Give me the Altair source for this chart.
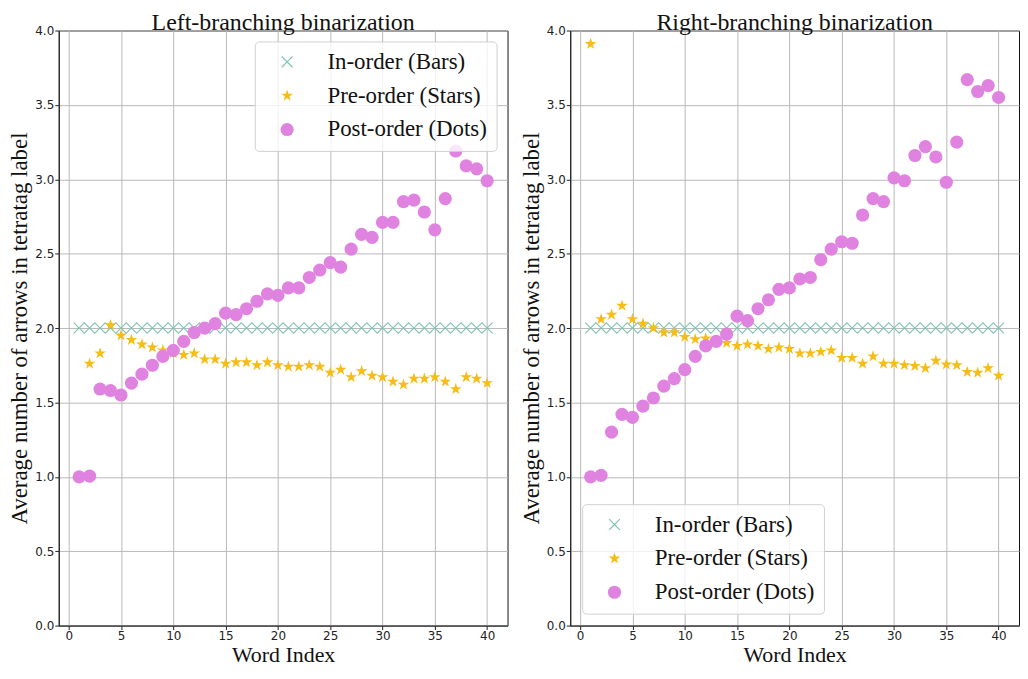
import math
import altair as alt
import pandas as pd

idx = list(range(1, 41))
series_names = ["In-order (Bars)", "Pre-order (Stars)", "Post-order (Dots)"]

left_in = [2.0] * 40
left_pre = [None, 1.76, 1.83, 2.02, 1.95, 1.92, 1.89, 1.87, 1.85, 1.83,
            1.82, 1.83, 1.79, 1.79, 1.76, 1.77, 1.77, 1.75, 1.77, 1.75,
            1.74, 1.74, 1.75, 1.74, 1.70, 1.72, 1.67, 1.71, 1.68, 1.67,
            1.64, 1.62, 1.66, 1.66, 1.67, 1.64, 1.59, 1.67, 1.66, 1.63]
left_post = [1.00, 1.005, 1.59, 1.58, 1.55, 1.63, 1.69, 1.75, 1.81, 1.85,
             1.91, 1.97, 2.00, 2.03, 2.10, 2.09, 2.13, 2.18, 2.23, 2.22,
             2.27, 2.27, 2.34, 2.39, 2.44, 2.41, 2.53, 2.63, 2.61, 2.71,
             2.71, 2.85, 2.86, 2.78, 2.66, 2.87, 3.19, 3.09, 3.07, 2.99]

right_in = [2.0] * 40
right_pre = [3.91, 2.06, 2.09, 2.15, 2.06, 2.03, 2.00, 1.97, 1.97, 1.94,
             1.925, 1.93, 1.91, 1.90, 1.88, 1.89, 1.88, 1.86, 1.87, 1.86,
             1.83, 1.83, 1.84, 1.85, 1.80, 1.80, 1.76, 1.81, 1.76, 1.76,
             1.75, 1.745, 1.73, 1.78, 1.755, 1.75, 1.705, 1.70, 1.73, 1.68]
right_post = [1.00, 1.01, 1.30, 1.42, 1.40, 1.475, 1.53, 1.61, 1.66, 1.72,
              1.81, 1.88, 1.91, 1.96, 2.08, 2.05, 2.13, 2.19, 2.26, 2.27,
              2.33, 2.34, 2.46, 2.53, 2.58, 2.57, 2.76, 2.87, 2.85, 3.01,
              2.99, 3.16, 3.22, 3.15, 2.98, 3.25, 3.67, 3.59, 3.63, 3.55]

colors = ["#80c2b5", "#f6bd16", "#e083e0"]

# marker shapes (unit square -1..1)
x_path = ("M-1,-0.86L-0.86,-1L0,-0.14L0.86,-1L1,-0.86L0.14,0L1,0.86L0.86,1"
          "L0,0.14L-0.86,1L-1,0.86L-0.14,0Z")
pts = []
for i in range(10):
    ang = -math.pi / 2 + i * math.pi / 5
    r = 1.0 if i % 2 == 0 else 0.382
    pts.append(f"{r * math.cos(ang):.3f},{r * math.sin(ang):.3f}")
star_path = "M" + "L".join(pts) + "Z"

SERIF = "Liberation Serif"
SANS = "DejaVu Sans"


def make_df(a, b, c):
    rows = []
    for s, vals in zip(series_names, [a, b, c]):
        for i, v in zip(idx, vals):
            if v is not None:
                rows.append({"idx": i, "val": v, "series": s})
    return pd.DataFrame(rows)


def panel(df, title, legend_orient, legend_offset):
    legend = alt.Legend(
        title=None, orient=legend_orient, offset=legend_offset,
        labelFont=SERIF, labelFontSize=23, labelColor="#111", labelLimit=400,
        padding=9, symbolOffset=12, labelOffset=29, rowPadding=10,
        cornerRadius=4, strokeColor="#d0d0d0",
        fillColor="rgba(255,255,255,0.8)", symbolStrokeWidth=0,
    )
    return alt.Chart(df, title=alt.Title(title, font=SERIF, fontSize=24,
                                         fontWeight="normal", color="#111",
                                         offset=-10)).mark_point(
        filled=True, opacity=1, strokeWidth=0
    ).encode(
        x=alt.X("idx:Q", title="Word Index",
                scale=alt.Scale(domain=[-0.95, 41.95], nice=False, zero=False),
                axis=alt.Axis(values=list(range(0, 45, 5)), format="d")),
        y=alt.Y("val:Q", title="Average number of arrows in tetratag label",
                scale=alt.Scale(domain=[0, 4], nice=False),
                axis=alt.Axis(values=[i * 0.5 for i in range(9)], format=".1f")),
        color=alt.Color("series:N", scale=alt.Scale(domain=series_names, range=colors),
                        legend=legend, sort=series_names),
        shape=alt.Shape("series:N", scale=alt.Scale(domain=series_names,
                                                    range=[x_path, star_path, "circle"]),
                        legend=legend, sort=series_names),
        size=alt.Size("series:N", scale=alt.Scale(domain=series_names,
                                                  range=[135, 175, 156]),
                      legend=legend, sort=series_names),
        order=alt.Order("ord:Q"),
    ).transform_calculate(
        ord="indexof(" + str(series_names) + ", datum.series)"
    ).properties(width=451, height=598)


left = panel(make_df(left_in, left_pre, left_post), "Left-branching binarization",
             "top-right", 11)
right = panel(make_df(right_in, right_pre, right_post), "Right-branching binarization",
              "bottom-left", 12)

chart = alt.hconcat(left, right, spacing=11).resolve_scale(
    color="independent", shape="independent", size="independent"
).resolve_legend(
    color="independent", shape="independent", size="independent"
).configure_view(
    stroke="#111", strokeWidth=1
).configure_axis(
    labelFont=SANS, labelFontSize=12, labelColor="#222", labelPadding=1,
    tickColor="#222", tickSize=4, domainColor="#222",
    gridColor="#b8b8b8", gridWidth=1,
    titleFont=SERIF, titleFontSize=23, titleFontWeight="normal", titleColor="#111",
).configure_axisY(titlePadding=3).configure_axisX(titlePadding=3, titleFontSize=22
).properties(background="white", padding={"left": 0, "top": 0, "right": 0, "bottom": 0})

chart.save("out.html", embed_options={"renderer": "svg", "actions": False})
